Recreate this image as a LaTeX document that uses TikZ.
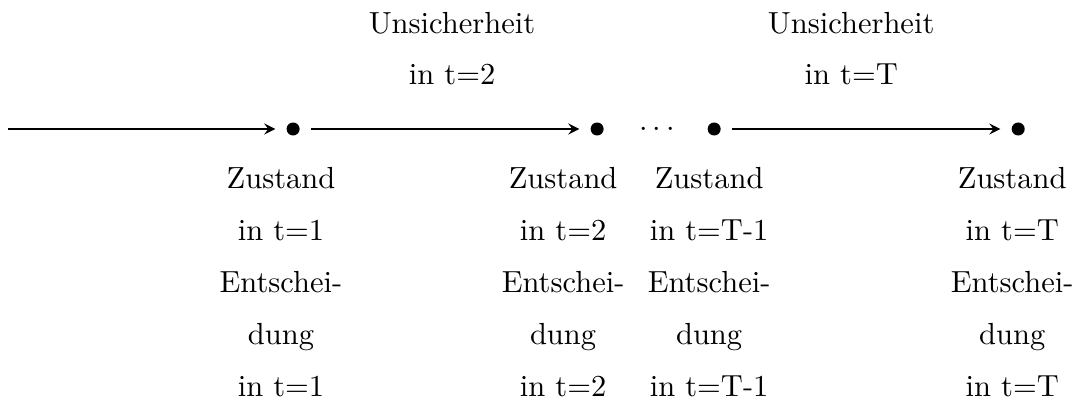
\documentclass[tikz,border=0pt]{standalone}
\usetikzlibrary{arrows, positioning}
\begin{document}
\begin{tikzpicture}[
    dot/.style={circle, fill, inner sep=0pt, minimum size=0.15cm, outer sep=0.13cm},
    lbl/.style={align=center, font={\fontsize{10}{17}\selectfont}, inner sep=0pt, anchor=base},
    arr/.style={->, >=stealth, semithick}
]
\useasboundingbox (0,0) rectangle (12.44,-4.63);
% Time line with states
\coordinate (start) at (0.092,-1.486);
\node[dot] (s1) at (3.376,-1.486) {};
\node[dot] (s2) at (6.878,-1.486) {};
\node[dot] (s3) at (8.226,-1.486) {};
\node[dot] (s4) at (11.728,-1.486) {};
\node[anchor=base, yshift=-2.5pt, inner sep=0pt] (gap) at (7.569,-1.486) {$\cdots$};

\draw[arr] (start) -- (s1);
\draw[arr] (s1) -- (s2);
\draw[arr] (s3) -- (s4);

% Uncertainty
\node[lbl] (u2) at (5.207,-0.979) {Unsicherheit\\in t=2};
\node[lbl] (uT) at (9.804,-0.979) {Unsicherheit\\in t=T};

% States and decisions
\node[lbl] (z1) at (3.237,-4.562) {Zustand\\in t=1\\Entschei-\\dung\\in t=1};
\node[lbl] (z2) at (6.486,-4.562) {Zustand\\in t=2\\Entschei-\\dung\\in t=2};
\node[lbl] (z3) at (8.168,-4.562) {Zustand\\in t=T-1\\Entschei-\\dung\\in t=T-1};
\node[lbl] (z4) at (11.659,-4.562) {Zustand\\in t=T\\Entschei-\\dung\\in t=T};
\end{tikzpicture}
\end{document}
